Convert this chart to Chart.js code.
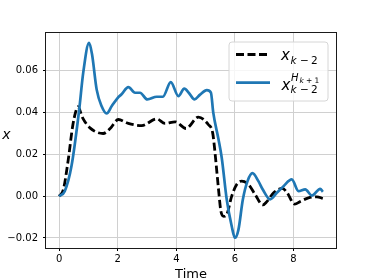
<!DOCTYPE html>
<html><head><meta charset="utf-8">
<script src="https://cdn.jsdelivr.net/npm/chart.js@4/dist/chart.umd.min.js"></script>
<style>html,body{margin:0;padding:0;background:#fff;overflow:hidden}</style>
</head><body>
<canvas id="c" width="374" height="279"></canvas>
<script>
// ---- data ----
const timeTicks = [0, 2, 4, 6, 8];
const valueTicks = [-0.02, 0, 0.02, 0.04, 0.06];
const xAxisLabel = 'Time';
const yAxisLabel = 'x';

const baseTime = [0,0.14,0.31,0.46,0.57,0.64,0.8,1.05,1.5,1.75,2.02,2.36,2.82,3.33,3.61,3.96,4.33,4.75,5.09,5.24,5.32,5.44,5.52,5.62,5.72,5.89,6.06,6.23,6.46,6.69,6.95,7.09,7.32,7.62,7.77,8.04,8.23,8.51,8.8,9.0];
const baseValue = [0,0.003,0.0175,0.0335,0.0407,0.0428,0.0375,0.0327,0.0300,0.0325,0.0367,0.0348,0.0338,0.0370,0.0348,0.0356,0.0324,0.0378,0.0343,0.0303,0.0208,0.0032,-0.0072,-0.0097,-0.0088,0.0,0.0056,0.0072,0.0056,0.0008,-0.0042,-0.0026,0.0016,0.0037,0.0019,-0.0038,-0.0025,-0.0008,-0.0003,-0.0011];

const hTime = [0,0.19,0.42,0.68,0.82,1.02,1.12,1.28,1.45,1.62,1.79,2.0,2.13,2.36,2.59,2.76,3.01,3.33,3.54,3.81,4.07,4.27,4.43,4.62,4.81,5.04,5.18,5.26,5.44,5.55,5.72,5.89,6.0,6.12,6.27,6.43,6.6,6.8,6.95,7.2,7.43,7.66,7.94,8.17,8.4,8.63,8.91,9.0];
const hValue = [0,0.0024,0.0144,0.041,0.059,0.0734,0.068,0.051,0.043,0.0396,0.043,0.0471,0.0488,0.0522,0.0495,0.0495,0.0463,0.0476,0.0476,0.0546,0.0479,0.0515,0.0494,0.0463,0.0486,0.0508,0.0496,0.040,0.0271,0.0183,-0.0016,-0.0144,-0.0199,-0.016,-0.0016,0.0072,0.011,0.0072,0.0032,-0.0015,0.0016,0.0048,0.008,0.0024,0.0033,0.0003,0.0035,0.0021];

const toPts = (t, v) => t.map((x, i) => ({x: x, y: v[i]}));
const FONT = '"DejaVu Sans", sans-serif';

const extras = {
  id: 'extras',
  afterDraw(chart) {
    const ctx = chart.ctx, a = chart.chartArea;
    ctx.save();
    // frame
    ctx.strokeStyle = '#1a1a1a'; ctx.lineWidth = 1;
    ctx.strokeRect(a.left - 0.5, a.top - 0.5, a.right - a.left + 1, a.bottom - a.top + 1);
    // axis labels
    ctx.fillStyle = '#000';
    ctx.font = '13px ' + FONT; ctx.textAlign = 'center'; ctx.textBaseline = 'alphabetic';
    ctx.fillText(xAxisLabel, (a.left + a.right) / 2, 278);
    ctx.font = 'italic 14px ' + FONT; ctx.textBaseline = 'alphabetic';
    ctx.fillText(yAxisLabel, 6.5, 138.5);
    // legend
    const bx = 229, by = 42, bw = 99, bh = 59, r = 3;
    ctx.beginPath();
    ctx.moveTo(bx + r, by); ctx.arcTo(bx + bw, by, bx + bw, by + bh, r);
    ctx.arcTo(bx + bw, by + bh, bx, by + bh, r); ctx.arcTo(bx, by + bh, bx, by, r);
    ctx.arcTo(bx, by, bx + bw, by, r); ctx.closePath();
    ctx.fillStyle = 'rgba(255,255,255,0.8)'; ctx.fill();
    ctx.strokeStyle = '#d6d6d6'; ctx.lineWidth = 1; ctx.stroke();
    // entry 1
    ctx.beginPath(); ctx.setLineDash([8, 3.5]); ctx.lineCap = 'butt';
    ctx.strokeStyle = '#000'; ctx.lineWidth = 2.8;
    ctx.moveTo(236, 54.5); ctx.lineTo(270, 54.5); ctx.stroke();
    ctx.setLineDash([]);
    ctx.fillStyle = '#000'; ctx.textAlign = 'left'; ctx.textBaseline = 'alphabetic';
    ctx.font = 'italic 15px ' + FONT; ctx.fillText('x', 281, 60);
    ctx.font = 'italic 10.5px ' + FONT; ctx.fillText('k', 290.5, 63.5);
    ctx.font = '10.5px ' + FONT; ctx.fillText('\u2212', 300, 63.5); ctx.fillText('2', 311, 63.5);
    // entry 2
    ctx.beginPath(); ctx.strokeStyle = '#1f77b4'; ctx.lineWidth = 2.7;
    ctx.moveTo(236, 82.7); ctx.lineTo(270, 82.7); ctx.stroke();
    ctx.font = 'italic 15px ' + FONT; ctx.fillText('x', 281.5, 90);
    ctx.font = 'italic 10px ' + FONT; ctx.fillText('H', 291, 80.5);
    ctx.font = 'italic 7.5px ' + FONT; ctx.fillText('k', 299.5, 82.5);
    ctx.font = '7.5px ' + FONT; ctx.fillText('+', 306, 82.5); ctx.fillText('1', 314.5, 82.5);
    ctx.font = 'italic 10.5px ' + FONT; ctx.fillText('k', 290.5, 93);
    ctx.font = '10.5px ' + FONT; ctx.fillText('\u2212', 300, 93); ctx.fillText('2', 311, 93);
    ctx.restore();
  }
};

new Chart(document.getElementById('c'), {
  type: 'line',
  data: {
    datasets: [
      { label: 'x_{k-2}', data: toPts(baseTime, baseValue), borderColor: '#000', borderWidth: 2.8,
        borderDash: [8, 3.5], pointRadius: 0, cubicInterpolationMode: 'monotone', fill: false, order: 2 },
      { label: 'x_{k-2}^{H_{k+1}}', data: toPts(hTime, hValue), borderColor: '#1f77b4', borderWidth: 2.7,
        pointRadius: 0, cubicInterpolationMode: 'monotone', fill: false, order: 1 }
    ]
  },
  options: {
    responsive: false, devicePixelRatio: 1, animation: false,
    layout: { padding: { top: 33, right: 38, left: 0, bottom: 0 } },
    plugins: { legend: { display: false }, tooltip: { enabled: false } },
    scales: {
      x: {
        type: 'linear', min: -0.45, max: 9.45,
        afterBuildTicks: s => { s.ticks = timeTicks.map(v => ({ value: v })); },
        afterFit: s => { s.height = 31; },
        grid: { color: '#d0d0d0', lineWidth: 1, drawTicks: true, tickLength: 3, tickColor: '#000' },
        border: { display: false },
        ticks: { color: '#000', font: { family: FONT, size: 10 }, padding: 2, maxRotation: 0, callback: v => String(v) }
      },
      y: {
        type: 'linear', min: -0.0248, max: 0.0781,
        afterBuildTicks: s => { s.ticks = valueTicks.map(v => ({ value: v })); },
        afterFit: s => { s.width = 46; },
        grid: { color: '#d0d0d0', lineWidth: 1, drawTicks: true, tickLength: 3, tickColor: '#000' },
        border: { display: false },
        ticks: { color: '#000', font: { family: FONT, size: 10 }, padding: 5,
          callback: v => (v < 0 ? '\u2212' : '') + Math.abs(v).toFixed(2) }
      }
    }
  },
  plugins: [extras]
});
</script>
</body></html>
